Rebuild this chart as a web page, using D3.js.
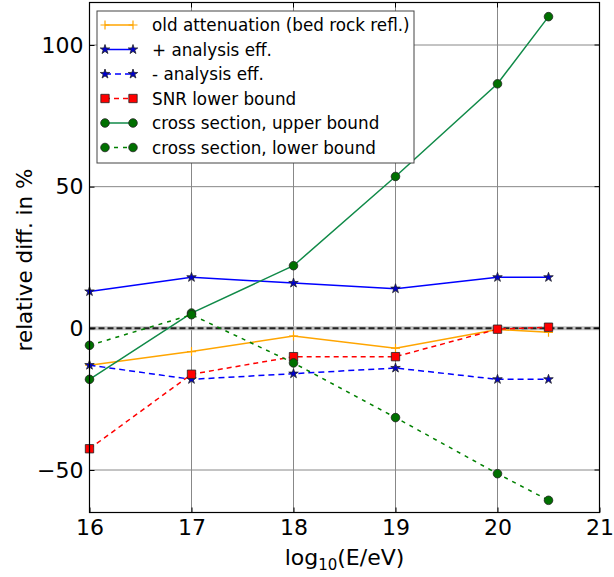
<!DOCTYPE html>
<html><head><meta charset="utf-8">
<script src="https://cdn.jsdelivr.net/npm/d3@7"></script>
<style>body{margin:0;background:#fff}svg{display:block}text{font-family:"DejaVu Sans",sans-serif}</style>
</head><body><svg id="c" width="614" height="577"></svg>
<script>
const energies = [16, 17, 18, 19, 20, 20.5];
const oldAttenuation = [-13, -8.2, -2.7, -7, -0.4, -1.4];
const plusAnalysis = [13, 18, 16, 14, 18, 18];
const minusAnalysis = [-13, -18, -16, -14, -18, -18];
const snrLower = [-42.5, -16.2, -10, -10, -0.3, 0.4];
const xsUpper = [-18, 5.4, 22.1, 53.6, 86.3, 110];
const xsLower = [-6, 4.8, -12.2, -31.5, -51.3, -60.7];
const xTicks = [16, 17, 18, 19, 20, 21];
const yTicks = [-50, 0, 50, 100];

const series = [
  {name:"old attenuation (bed rock refl.)", values:oldAttenuation, color:"#FFA500", dash:null, marker:"plus", mfill:"#FFA500"},
  {name:"+ analysis eff.", values:plusAnalysis, color:"#0000FF", dash:null, marker:"star", mfill:"#0000CC"},
  {name:"- analysis eff.", values:minusAnalysis, color:"#0000FF", dash:"6,4", marker:"star", mfill:"#0000CC"},
  {name:"SNR lower bound", values:snrLower, color:"#FF0000", dash:"5,4", marker:"square", mfill:"#FF0000"},
  {name:"cross section, upper bound", values:xsUpper, color:"#108a48", dash:null, marker:"circle", mfill:"#007000"},
  {name:"cross section, lower bound", values:xsLower, color:"#008000", dash:"4,5", marker:"circle", mfill:"#007000"}
];

const svg = d3.select("#c");
const L=89.5, R=599.5, T=2.5, B=512.5;
const x = d3.scaleLinear().domain([16,21]).range([L,R]);
const y = d3.scaleLinear().domain([-65,115]).range([B,T]);

// grid
const g = svg.append("g");
g.selectAll(".gx").data(xTicks).join("line").attr("x1",d=>x(d)).attr("x2",d=>x(d)).attr("y1",T).attr("y2",B).attr("stroke","#888").attr("stroke-width",1);
g.selectAll(".gy").data(yTicks).join("line").attr("x1",L).attr("x2",R).attr("y1",d=>y(d)).attr("y2",d=>y(d)).attr("stroke","#888").attr("stroke-width",1);

// zero reference line
svg.append("line").attr("x1",L).attr("x2",R).attr("y1",y(0)).attr("y2",y(0)).attr("stroke","#c0c0c0").attr("stroke-width",4);
svg.append("line").attr("x1",L).attr("x2",R).attr("y1",y(0)).attr("y2",y(0)).attr("stroke","#222").attr("stroke-width",2).attr("stroke-dasharray","6,3");

function markerPath(type){
  if(type==="star") return d3.symbol(d3.symbolStar, 28)();
  if(type==="square") return d3.symbol(d3.symbolSquare, 70)();
  if(type==="circle") return d3.symbol(d3.symbolCircle, 58)();
  return "M-4.5,0H4.5M0,-4.5V4.5";
}
function drawMarker(sel, s){
  sel.append("path").attr("d", markerPath(s.marker))
    .attr("fill", s.marker==="plus" ? "none" : s.mfill)
    .attr("stroke", s.marker==="plus" ? s.color : "#222")
    .attr("stroke-width", s.marker==="plus" ? 1.2 : 0.8);
}

const line = d3.line().x((d,i)=>x(energies[i])).y(d=>y(d));
series.forEach(s=>{
  svg.append("path").datum(s.values).attr("d",line).attr("fill","none")
    .attr("stroke",s.color).attr("stroke-width",1.5)
    .attr("stroke-dasharray",s.dash);
  s.values.forEach((v,i)=>{
    const m = svg.append("g").attr("transform",`translate(${x(energies[i])},${y(v)})`);
    drawMarker(m,s);
  });
});

// frame
svg.append("rect").attr("x",L).attr("y",T).attr("width",R-L).attr("height",B-T).attr("fill","none").attr("stroke","#000").attr("stroke-width",1.2);

// axes
const ax = svg.append("g").attr("transform",`translate(0,${B})`)
  .call(d3.axisBottom(x).tickValues(xTicks).tickSizeInner(-5).tickSizeOuter(0).tickPadding(7).tickFormat(d3.format("d")));
const ay = svg.append("g").attr("transform",`translate(${L},0)`)
  .call(d3.axisLeft(y).tickValues(yTicks).tickSizeInner(-5).tickSizeOuter(0).tickPadding(6).tickFormat(d=>d<0?"\u2212"+Math.abs(d):d));
[ax,ay].forEach(a=>{a.select(".domain").remove(); a.selectAll("text").attr("font-size",22).attr("fill","#000").attr("font-family","DejaVu Sans");});
// right & top ticks
svg.selectAll(".rt").data(yTicks).join("line").attr("x1",R).attr("x2",R-5).attr("y1",d=>y(d)).attr("y2",d=>y(d)).attr("stroke","#000");
svg.selectAll(".tt").data(xTicks).join("line").attr("y1",T).attr("y2",T+5).attr("x1",d=>x(d)).attr("x2",d=>x(d)).attr("stroke","#000");

// axis labels
const xl = svg.append("text").attr("x",(L+R)/2).attr("y",565).attr("text-anchor","middle").attr("font-size",22);
xl.append("tspan").text("log");
xl.append("tspan").text("10").attr("font-size",15).attr("dy",5);
xl.append("tspan").text("(E/eV)").attr("dy",-5);
svg.append("text").attr("transform",`translate(32,260) rotate(-90)`).attr("text-anchor","middle").attr("font-size",21.5).text("relative diff. in %");

// legend
const lg = svg.append("g");
lg.append("rect").attr("x",97).attr("y",11).attr("width",317).attr("height",152).attr("fill","#fff").attr("stroke","#444").attr("stroke-width",1);
series.forEach((s,i)=>{
  const yy = 25 + i*24.5;
  lg.append("line").attr("x1",105).attr("x2",133).attr("y1",yy).attr("y2",yy).attr("stroke",s.color).attr("stroke-width",1.5).attr("stroke-dasharray",s.dash);
  [105,133].forEach(px=>{ drawMarker(lg.append("g").attr("transform",`translate(${px},${yy})`), s); });
  lg.append("text").attr("x",152).attr("y",yy+6).attr("font-size",16.8).text(s.name);
});
</script></body></html>
